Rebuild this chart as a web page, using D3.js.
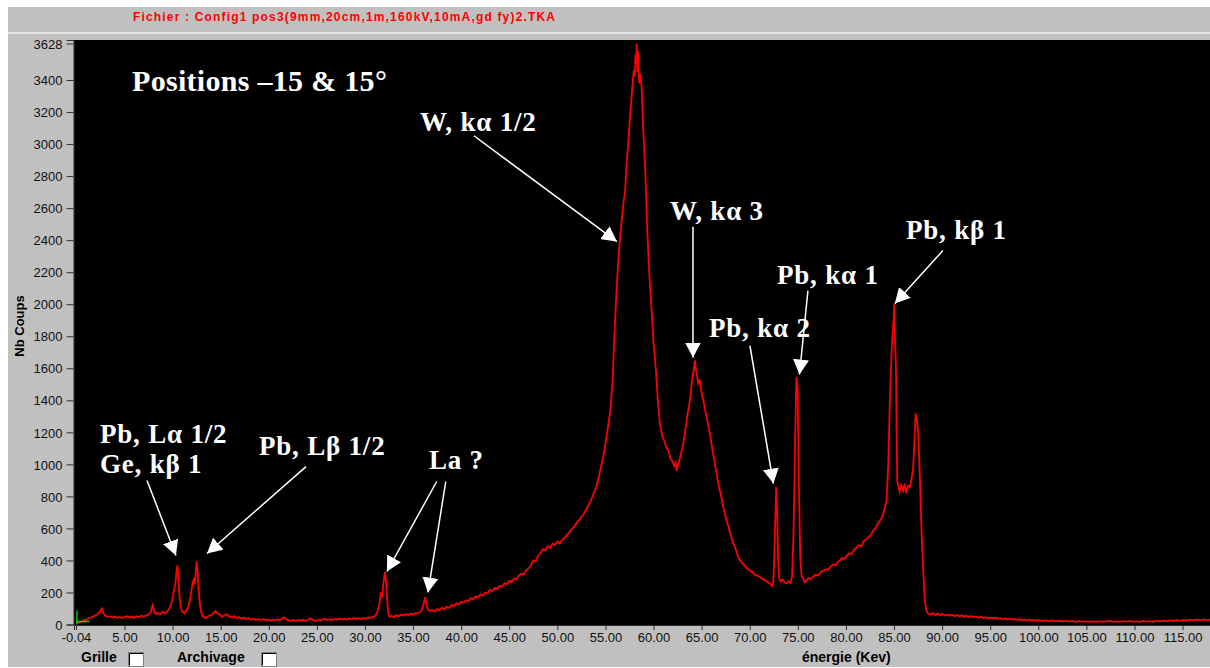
<!DOCTYPE html>
<html>
<head>
<meta charset="utf-8">
<script src="https://cdn.jsdelivr.net/npm/d3@7"></script>
<style>
  html, body { margin: 0; padding: 0; background: #fff; }
  svg { display: block; }
</style>
</head>
<body>
<script>
// spectrum, [energy keV, counts]
const lowRange = [
  [0.0, 18], [0.25, 10], [0.5, 14], [0.75, 26], [1.0, 30], [1.25, 38], [1.5, 42], [1.75, 50], [2.0, 58], [2.2, 66],
  [2.4, 78], [2.55, 92], [2.65, 100], [2.8, 72], [3.0, 55], [3.25, 48], [3.5, 52], [3.75, 44], [4.0, 50], [4.25, 42],
  [4.5, 47], [4.75, 40], [5.0, 46], [5.25, 52], [5.5, 43], [5.75, 48], [6.0, 41], [6.25, 50], [6.5, 46], [6.75, 55],
  [7.0, 48], [7.25, 57], [7.5, 62], [7.7, 75], [7.85, 105], [7.95, 122], [8.05, 90], [8.2, 66], [8.45, 72], [8.7, 64],
  [8.95, 78], [9.2, 70], [9.45, 82], [9.65, 95], [9.85, 130], [10.0, 165], [10.15, 215], [10.3, 260], [10.42, 340], [10.5, 369],
  [10.6, 300], [10.7, 190], [10.85, 110], [11.0, 80], [11.2, 72], [11.4, 85], [11.6, 105], [11.8, 150], [11.95, 210], [12.1, 265],
  [12.2, 280], [12.3, 250], [12.4, 320], [12.5, 395], [12.6, 330], [12.7, 220], [12.85, 120], [13.0, 70], [13.2, 48], [13.45, 40],
  [13.7, 52], [13.95, 58], [14.2, 66], [14.45, 84], [14.65, 70], [14.9, 62], [15.15, 48], [15.4, 58], [15.65, 64], [15.9, 50],
  [16.15, 44], [16.4, 52], [16.65, 40], [16.9, 46], [17.15, 36], [17.4, 42], [17.65, 33], [17.9, 40], [18.15, 30], [18.4, 36],
  [18.65, 28], [18.9, 34], [19.15, 26], [19.4, 33], [19.65, 27], [19.9, 31], [20.15, 24], [20.4, 30], [20.65, 26], [20.9, 32],
  [21.15, 28], [21.4, 38], [21.6, 44], [21.85, 30], [22.1, 26], [22.35, 21], [22.6, 28], [22.85, 20], [23.1, 30], [23.35, 24],
  [23.6, 30], [23.85, 22], [24.1, 31], [24.35, 38], [24.6, 27], [24.85, 22], [25.1, 29], [25.35, 24], [25.6, 31], [25.85, 35],
  [26.1, 28], [26.35, 33], [26.6, 27], [26.85, 35], [27.1, 30], [27.35, 37], [27.6, 31], [27.85, 36], [28.1, 30], [28.35, 38],
  [28.6, 33], [28.85, 40], [29.1, 34], [29.35, 39], [29.6, 33], [29.85, 41], [30.1, 36], [30.35, 44], [30.6, 40], [30.85, 48],
  [31.1, 55]
];

const laRange = [
  [31.3, 80], [31.5, 130], [31.65, 200], [31.8, 170], [31.9, 250], [32.0, 300], [32.08, 327], [32.2, 260], [32.3, 160], [32.4, 80],
  [32.55, 48], [32.75, 55], [33.0, 46], [33.25, 58], [33.5, 52], [33.75, 62], [34.0, 55], [34.25, 64], [34.5, 58], [34.75, 68],
  [35.0, 62], [35.25, 72], [35.5, 68], [35.75, 80], [35.95, 95], [36.1, 130], [36.25, 171], [36.4, 120], [36.55, 92], [36.75, 84],
  [37.0, 90], [37.25, 80], [37.5, 96], [37.75, 90], [38.0, 104], [38.25, 96], [38.5, 110], [38.75, 104], [39.0, 122], [39.25, 115],
  [39.5, 132], [39.75, 124], [40.0, 142], [40.25, 136], [40.5, 150], [40.75, 146], [41.0, 165], [41.25, 156], [41.5, 175], [41.75, 168],
  [42.0, 188], [42.25, 180], [42.5, 200], [42.75, 195], [43.0, 216], [43.25, 208], [43.5, 228], [43.75, 222], [44.0, 240], [44.25, 236],
  [44.5, 258], [44.75, 252]
];

const tungstenRange = [
  [45.0, 272], [45.25, 266], [45.5, 288], [45.75, 282], [46.0, 306], [46.25, 318], [46.5, 312], [46.75, 338], [47.0, 350], [47.25, 368],
  [47.5, 400], [47.75, 395], [48.0, 430], [48.25, 445], [48.5, 470], [48.75, 462], [49.0, 490], [49.25, 478], [49.5, 505], [49.75, 496],
  [50.0, 518], [50.25, 505], [50.5, 530], [50.75, 540], [51.0, 560], [51.25, 575], [51.5, 598], [51.75, 610], [52.0, 635], [52.25, 650],
  [52.5, 672], [52.75, 690], [53.0, 718], [53.25, 745], [53.5, 775], [53.75, 815], [54.0, 850], [54.25, 905], [54.5, 975], [54.75, 1040],
  [54.95, 1108], [55.15, 1190], [55.35, 1270], [55.5, 1330], [55.75, 1525], [55.9, 1760], [56.1, 2025], [56.3, 2240], [56.5, 2400], [56.7, 2530],
  [56.85, 2620], [57.05, 2712], [57.2, 2880], [57.37, 3006], [57.55, 3170], [57.72, 3296], [57.85, 3400], [57.96, 3462], [58.05, 3420], [58.12, 3560],
  [58.2, 3500], [58.24, 3628], [58.32, 3450], [58.4, 3580], [58.5, 3380], [58.6, 3440], [58.76, 3358], [58.93, 3087], [59.05, 2950], [59.18, 2775],
  [59.35, 2462], [59.55, 2200], [59.8, 1962], [60.0, 1760], [60.25, 1587], [60.45, 1400], [60.66, 1256], [60.9, 1180], [61.1, 1150], [61.3, 1110],
  [61.53, 1087], [61.75, 1040], [61.95, 1020], [62.15, 990], [62.3, 1010], [62.4, 960], [62.55, 1000], [62.75, 1040], [62.9, 1080], [63.09, 1129],
  [63.3, 1210], [63.5, 1300], [63.78, 1400], [64.0, 1520], [64.15, 1580], [64.3, 1650], [64.4, 1590], [64.5, 1560], [64.65, 1506], [64.8, 1530],
  [64.95, 1460], [65.17, 1400], [65.4, 1330], [65.6, 1270], [65.86, 1194], [66.1, 1100], [66.3, 1030], [66.56, 944], [66.8, 860], [67.0, 810],
  [67.25, 733], [67.5, 670], [67.75, 620]
];

const leadRange = [
  [68.0, 565], [68.3, 506], [68.55, 470], [68.75, 430], [68.98, 400], [69.2, 385], [69.45, 368], [69.7, 352], [70.02, 337], [70.3, 326],
  [70.55, 310], [70.8, 305], [71.06, 296], [71.3, 285], [71.55, 278], [71.8, 268], [72.1, 256], [72.3, 240], [72.45, 260], [72.55, 420],
  [72.65, 650], [72.75, 858], [72.85, 700], [72.95, 420], [73.05, 290], [73.2, 270], [73.4, 280], [73.6, 262], [73.84, 256], [74.05, 270],
  [74.25, 260], [74.4, 300], [74.55, 560], [74.7, 1100], [74.85, 1546], [74.98, 1480], [75.1, 900], [75.25, 420], [75.4, 300], [75.5, 296],
  [75.7, 265], [75.91, 275], [76.1, 290], [76.35, 285], [76.6, 300], [76.85, 310], [77.1, 305], [77.35, 325], [77.64, 337], [77.9, 345],
  [78.15, 340], [78.4, 360], [78.65, 375], [78.9, 370], [79.15, 390], [79.38, 400], [79.6, 415], [79.85, 410], [80.1, 430], [80.35, 445],
  [80.6, 440], [80.85, 465], [81.11, 483], [81.35, 495], [81.6, 488], [81.85, 520], [82.1, 530], [82.35, 545], [82.6, 560], [82.84, 587],
  [83.05, 600], [83.3, 628], [83.55, 650], [83.75, 670], [83.88, 693], [84.05, 730], [84.23, 775], [84.4, 1000], [84.57, 1400], [84.75, 1700],
  [84.85, 1818], [84.95, 1900], [85.02, 2004], [85.1, 1800], [85.2, 1608], [85.27, 1200], [85.33, 900], [85.45, 860], [85.6, 830], [85.75, 870],
  [85.95, 837], [86.1, 880], [86.25, 820], [86.45, 865], [86.65, 858], [86.85, 920], [87.0, 983], [87.12, 1150], [87.25, 1317], [87.38, 1280],
  [87.52, 1194], [87.7, 900], [87.87, 568], [88.05, 320], [88.2, 150], [88.35, 90], [88.55, 69], [88.8, 62]
];

const tailRange = [
  [89.05, 72], [89.3, 60], [89.55, 68], [89.8, 58], [90.05, 66], [90.3, 56], [90.55, 63], [90.8, 55], [91.05, 61], [91.3, 52],
  [91.55, 59], [91.8, 50], [92.05, 57], [92.3, 49], [92.55, 55], [92.8, 47], [93.05, 53], [93.3, 45], [93.55, 50], [93.8, 43],
  [94.05, 48], [94.3, 41], [94.55, 46], [94.8, 39], [95.05, 44], [95.3, 37], [95.55, 42], [95.8, 35], [96.05, 40], [96.3, 33],
  [96.55, 38], [96.8, 32], [97.05, 36], [97.3, 30], [97.55, 34], [97.8, 29], [98.05, 33], [98.3, 27], [98.55, 31], [98.8, 26],
  [99.05, 30], [99.3, 25], [99.55, 28], [99.8, 23], [100.05, 27], [100.4, 22], [100.75, 26], [101.1, 21], [101.45, 25], [101.8, 20],
  [102.15, 24], [102.5, 19], [102.85, 23], [103.2, 18], [103.55, 22], [103.9, 17], [104.25, 21], [104.6, 17], [104.95, 20], [105.3, 16],
  [105.65, 20], [106.0, 17], [106.35, 21], [106.7, 16], [107.05, 19], [107.4, 24], [107.75, 17], [108.1, 20], [108.45, 16], [108.8, 21],
  [109.15, 18], [109.5, 22], [109.85, 17], [110.2, 20], [110.55, 16], [110.9, 22], [111.25, 18], [111.6, 21], [111.95, 17], [112.3, 23],
  [112.65, 19], [113.0, 24], [113.35, 20], [113.7, 25], [114.05, 22], [114.4, 27], [114.75, 23], [115.1, 28], [115.45, 24], [115.8, 30],
  [116.15, 26], [116.5, 31], [116.85, 27], [117.2, 32], [117.55, 28], [117.85, 30]
];

const xTicks = [-0.04, 5, 10, 15, 20, 25, 30, 35, 40, 45, 50, 55, 60, 65, 70, 75, 80, 85, 90, 95, 100, 105, 110, 115];
const yTicks = [0, 200, 400, 600, 800, 1000, 1200, 1400, 1600, 1800, 2000, 2200, 2400, 2600, 2800, 3000, 3200, 3400, 3628];

const fileTitle = 'Fichier : Config1 pos3(9mm,20cm,1m,160kV,10mA,gd fy)2.TKA';

// labels and arrows, in [keV, counts]
const annotations = [
  { lines: ['W, k\u03b1 1/2'], at: [35.72, 3084], arrows: [[[41.33, 3052], [56.19, 2391]]] },
  { lines: ['W, k\u03b1 3'], at: [61.7, 2528], arrows: [[[64.1, 2484], [64.1, 1667]]] },
  { lines: ['Pb, k\u03b1 2'], at: [65.76, 1798], arrows: [[[70.02, 1742], [72.46, 880]]] },
  { lines: ['Pb, k\u03b1 1'], at: [72.83, 2129], arrows: [[[76.05, 2085], [75.17, 1561]]] },
  { lines: ['Pb, k\u03b2 1'], at: [86.24, 2409], arrows: [[[90.08, 2335], [85.09, 2004]]] },
  { lines: ['Pb, L\u03b1 1/2', 'Ge, k\u03b2 1'], at: [2.45, 1136], arrows: [[[7.34, 899], [10.35, 431]]] },
  { lines: ['Pb, L\u03b2 1/2'], at: [18.98, 1061], arrows: [[[23.87, 986], [13.58, 443]]] },
  { lines: ['La ?'], at: [36.65, 974], arrows: [[[37.46, 893], [32.28, 331]], [[38.4, 893], [36.55, 200]]] }
];

const W = 1210, H = 668;
const plot = { left: 74, right: 1210, top: 40, bottom: 625 };
const UI_FONT = '"Liberation Sans", Arial, sans-serif';
const SERIF = '"Liberation Serif", "Times New Roman", serif';

const svg = d3.select('body').append('svg')
  .attr('width', W)
  .attr('height', H);

// window frame
svg.append('rect').attr('width', W).attr('height', H).attr('fill', '#fff');
svg.append('rect')
  .attr('x', 8).attr('y', 7)
  .attr('width', W - 8).attr('height', H - 8)
  .attr('fill', '#c0c0c0');
svg.append('rect')
  .attr('x', 8).attr('y', 32)
  .attr('width', W - 8).attr('height', 2)
  .attr('fill', '#e6e6e6');

svg.append('text')
  .attr('x', 133).attr('y', 21)
  .attr('fill', '#ff0000')
  .attr('font-family', UI_FONT)
  .attr('font-weight', 'bold')
  .attr('font-size', 12)
  .attr('textLength', 422)
  .attr('lengthAdjust', 'spacing')
  .text(fileTitle);

const x = d3.scaleLinear().domain([-0.25, 117.85]).range([plot.left, plot.right]);
const y = d3.scaleLinear().domain([0, 3650]).range([624.5, plot.top]);

svg.append('rect')
  .attr('x', plot.left).attr('y', plot.top)
  .attr('width', plot.right - plot.left).attr('height', plot.bottom - plot.top)
  .attr('fill', '#000');

svg.append('clipPath').attr('id', 'clip')
  .append('rect')
  .attr('x', plot.left).attr('y', plot.top)
  .attr('width', plot.right - plot.left).attr('height', plot.bottom - plot.top);

// axes
const yAxis = svg.append('g')
  .attr('transform', `translate(${plot.left - 0.5},0)`)
  .call(d3.axisLeft(y).tickValues(yTicks).tickSize(7).tickPadding(4).tickFormat(d3.format('d')));
const xAxis = svg.append('g')
  .attr('transform', `translate(0,${plot.bottom})`)
  .call(d3.axisBottom(x).tickValues(xTicks).tickSize(5).tickPadding(3).tickFormat((d) => d.toFixed(2)));

[yAxis, xAxis].forEach((g) => {
  g.select('.domain').attr('stroke', '#303030');
  g.selectAll('.tick line').attr('stroke', '#303030');
  g.selectAll('.tick text')
    .attr('fill', '#111')
    .attr('font-family', UI_FONT)
    .attr('font-size', 13);
});
yAxis.selectAll('.tick text').attr('dy', '0.36em');

// spectrum
const spectrum = [...lowRange, ...laRange, ...tungstenRange, ...leadRange, ...tailRange];
const line = d3.line()
  .x((d) => x(d[0]))
  .y((d) => y(d[1]));

svg.append('path')
  .datum(spectrum)
  .attr('clip-path', 'url(#clip)')
  .attr('d', line)
  .attr('fill', 'none')
  .attr('stroke', '#ff0000')
  .attr('stroke-width', 1.8)
  .attr('stroke-linejoin', 'miter');

// little green cursor at the origin
svg.append('path')
  .attr('d', `M${x(0) + 0.5},${y(0) - 14} V${y(0)} M${x(0)},${y(0) - 3} H${x(0) + 13}`)
  .attr('stroke', '#00e000')
  .attr('stroke-width', 1.3)
  .attr('fill', 'none');

// annotations
svg.append('defs').append('marker')
  .attr('id', 'head')
  .attr('viewBox', '0 -8 15 16')
  .attr('refX', 15).attr('refY', 0)
  .attr('markerWidth', 15).attr('markerHeight', 16)
  .attr('markerUnits', 'userSpaceOnUse')
  .attr('orient', 'auto')
  .append('path')
  .attr('d', 'M0,-8L15,0L0,8Z')
  .attr('fill', '#fff');

const notes = svg.append('g');
annotations.forEach((a) => {
  a.arrows.forEach((ar) => {
    notes.append('line')
      .attr('x1', x(ar[0][0])).attr('y1', y(ar[0][1]))
      .attr('x2', x(ar[1][0])).attr('y2', y(ar[1][1]))
      .attr('stroke', '#fff')
      .attr('stroke-width', 1.5)
      .attr('marker-end', 'url(#head)');
  });
  a.lines.forEach((t, i) => {
    notes.append('text')
      .attr('x', x(a.at[0]))
      .attr('y', y(a.at[1]) + i * 30)
      .attr('fill', '#fff')
      .attr('font-family', SERIF)
      .attr('font-weight', 'bold')
      .attr('font-size', 27)
      .attr('letter-spacing', 0.8)
      .text(t);
  });
});

svg.append('text')
  .attr('x', 132).attr('y', 91)
  .attr('fill', '#fff')
  .attr('font-family', SERIF)
  .attr('font-weight', 'bold')
  .attr('font-size', 30)
  .attr('letter-spacing', 0.3)
  .text('Positions \u201315 & 15\u00b0');

// axis titles
svg.append('text')
  .attr('transform', 'translate(24,326) rotate(-90)')
  .attr('text-anchor', 'middle')
  .attr('font-family', UI_FONT)
  .attr('font-weight', 'bold')
  .attr('font-size', 13)
  .attr('fill', '#000')
  .text('Nb Coups');

svg.append('text')
  .attr('x', 802).attr('y', 662)
  .attr('font-family', UI_FONT)
  .attr('font-weight', 'bold')
  .attr('font-size', 14)
  .attr('fill', '#000')
  .text('énergie (Kev)');

// bottom check boxes
const boxes = [
  { label: 'Grille', tx: 81, bx: 128 },
  { label: 'Archivage', tx: 177, bx: 261 }
];
boxes.forEach((b) => {
  svg.append('text')
    .attr('x', b.tx).attr('y', 662)
    .attr('font-family', UI_FONT)
    .attr('font-weight', 'bold')
    .attr('font-size', 14)
    .attr('fill', '#000')
    .text(b.label);
  svg.append('rect')
    .attr('x', b.bx + 0.5).attr('y', 652.5)
    .attr('width', 15).attr('height', 14)
    .attr('fill', '#fff')
    .attr('stroke', '#808080');
  svg.append('path')
    .attr('d', `M${b.bx + 1.5},${665.5} V${653.5} H${b.bx + 15}`)
    .attr('stroke', '#000')
    .attr('fill', 'none');
});
</script>
</body>
</html>
